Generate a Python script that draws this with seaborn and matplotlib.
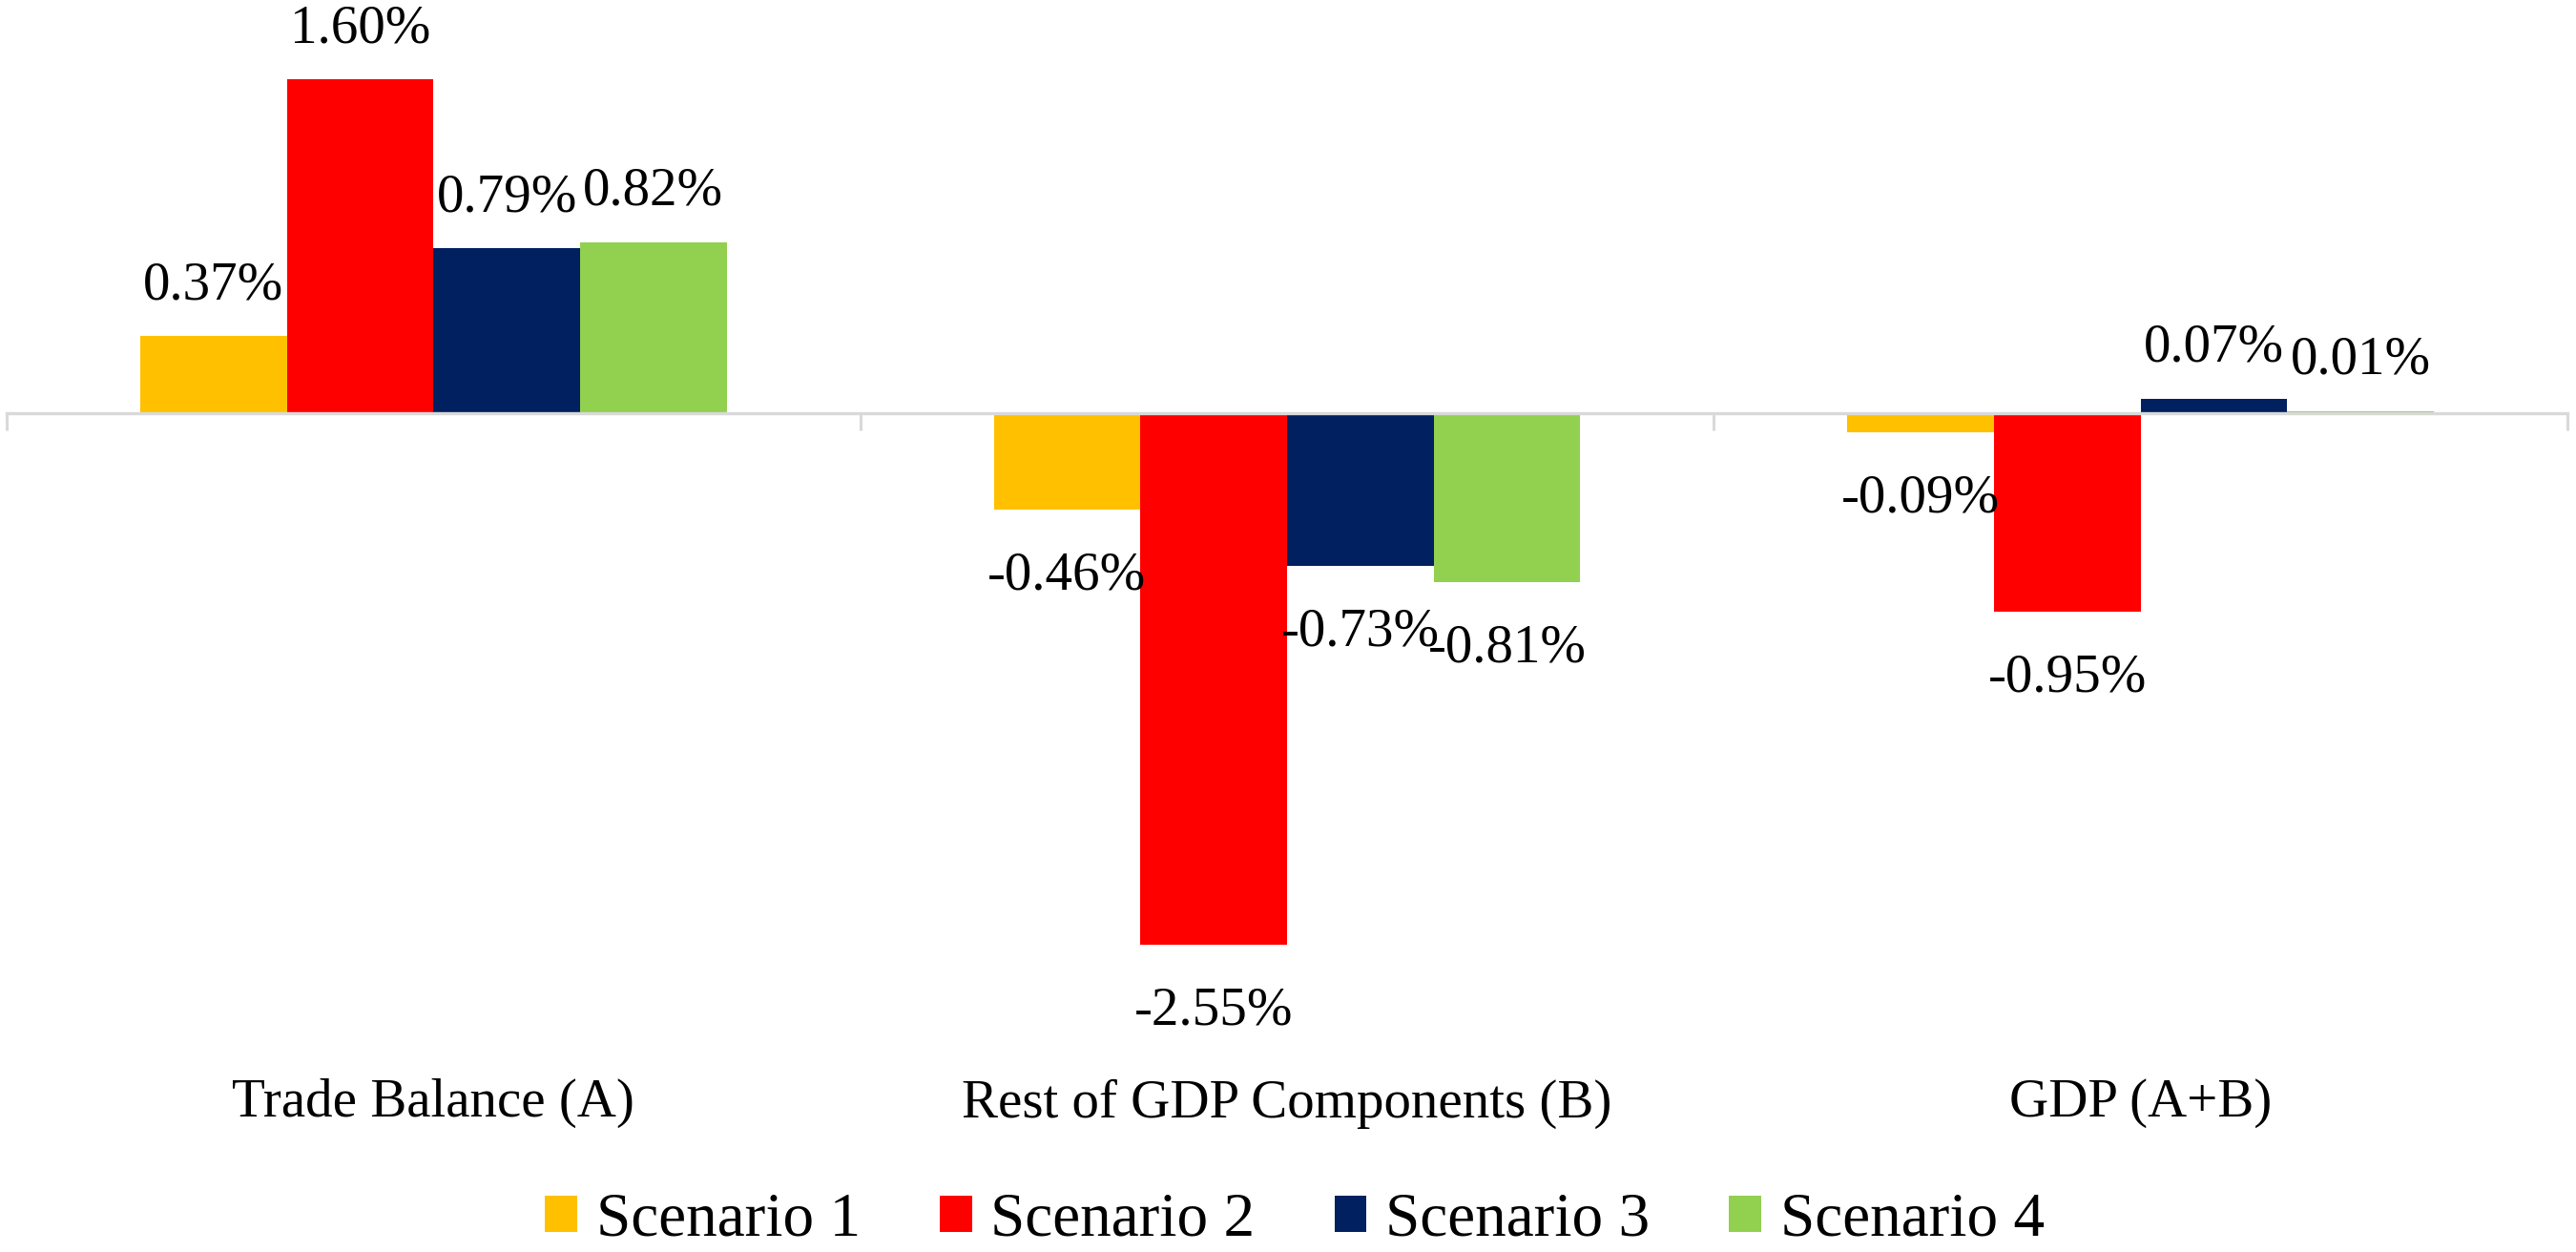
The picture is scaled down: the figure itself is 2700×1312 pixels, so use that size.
import matplotlib
matplotlib.use("Agg")
import matplotlib.pyplot as plt
import seaborn as sns
import pandas as pd
from matplotlib.ticker import FixedLocator

# ---------------- data ----------------
categories = ["Trade Balance (A)", "Rest of GDP Components (B)", "GDP (A+B)"]
scenarios = ["Scenario 1", "Scenario 2", "Scenario 3", "Scenario 4"]
scenario1 = [0.37, -0.46, -0.09]
scenario2 = [1.60, -2.55, -0.95]
scenario3 = [0.79, -0.73, 0.07]
scenario4 = [0.82, -0.81, 0.01]
colors = ["#FFC000", "#FF0000", "#002060", "#92D050"]

rows = []
for s, vals in zip(scenarios, [scenario1, scenario2, scenario3, scenario4]):
    for c, v in zip(categories, vals):
        rows.append({"Category": c, "Scenario": s, "Value": v})
df = pd.DataFrame(rows)

# ---------------- style ----------------
sns.set_theme(style="white")
plt.rcParams["font.family"] = ["Liberation Serif", "DejaVu Serif"]
plt.rcParams["text.color"] = "black"

W, H = 2700, 1312
fig = plt.figure(figsize=(W / 100, H / 100), dpi=100)
zero_px = 879.0   # zero line position, px from bottom
ppu = 218.5       # px per 1 %
ymin, ymax = -2.9, 1.95
ax = fig.add_axes([6.9 / W, (zero_px + ymin * ppu) / H,
                   (2691 - 6.9) / W, (ymax - ymin) * ppu / H])

sns.barplot(data=df, x="Category", y="Value", hue="Scenario",
            order=categories, hue_order=scenarios, palette=colors,
            width=0.687, saturation=1, linewidth=0, errorbar=None, ax=ax)

ax.set_xlim(-0.5, 2.5)
ax.set_ylim(ymin, ymax)
ax.set_xlabel("")
ax.set_ylabel("")
ax.set_yticks([])
for sp in ["top", "right", "left"]:
    ax.spines[sp].set_visible(False)
axis_col = "#d9d9d9"
ax.spines["bottom"].set_position(("data", 0))
ax.spines["bottom"].set_color(axis_col)
ax.spines["bottom"].set_linewidth(2.4)
ax.spines["bottom"].set_zorder(5)

ax.xaxis.set_minor_locator(FixedLocator([-0.5, 0.5, 1.5, 2.5]))
ax.tick_params(axis="x", which="minor", bottom=True, length=13, width=2.2,
               color=axis_col, direction="out")
ax.tick_params(axis="x", which="major", bottom=True, length=0, pad=502,
               labelsize=41, labelcolor="black")

# data labels
for cont in ax.containers:
    for bar in cont:
        h = bar.get_height()
        xc = bar.get_x() + bar.get_width() / 2
        if h >= 0:
            ax.annotate(f"{h:.2f}%", xy=(xc, h), xytext=(0, 19.5),
                        textcoords="offset points", ha="center", va="bottom",
                        fontsize=41, color="black")
        else:
            ax.annotate(f"{h:.2f}%", xy=(xc, h), xytext=(0, -31.5),
                        textcoords="offset points", ha="center", va="top",
                        fontsize=41, color="black")

# legend
handles, labels = ax.get_legend_handles_labels()
if ax.get_legend() is not None:
    ax.get_legend().remove()
fig.legend(handles, labels, loc="center", bbox_to_anchor=(0.5026, 0.025),
           ncol=4, frameon=False, fontsize=47, labelcolor="black",
           handlelength=0.516, handleheight=0.516, handletextpad=0.30,
           columnspacing=1.275, borderpad=0, borderaxespad=0)

fig.savefig("out.png", dpi=100)
